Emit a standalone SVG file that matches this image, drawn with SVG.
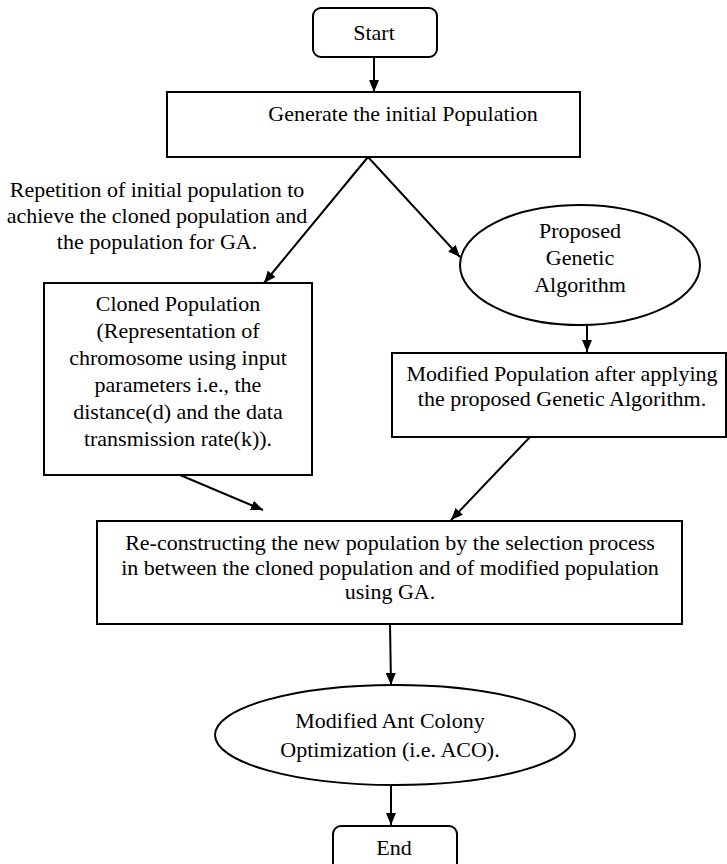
<svg xmlns="http://www.w3.org/2000/svg" width="727" height="864" viewBox="0 0 727 864">
  <style>
    .box { fill: #fff; stroke: #000; stroke-width: 2; }
    .lbl { font-family: "Liberation Serif", "Times New Roman", serif; font-size: 22px; fill: #000; text-anchor: middle; }
    .edge { stroke: #000; stroke-width: 2; fill: none; marker-end: url(#arrow); }
  </style>
  <defs>
    <marker id="arrow" viewBox="0 0 12 10" refX="12" refY="5" markerWidth="12" markerHeight="10" markerUnits="userSpaceOnUse" orient="auto">
      <path d="M0,0 L12,5 L0,10 z" fill="#000"/>
    </marker>
  </defs>
  <rect width="727" height="864" fill="#fff"/>

  <g id="connectors">
    <line class="edge" x1="374" y1="57" x2="374" y2="92"/>
    <line class="edge" x1="368" y1="157" x2="264" y2="283"/>
    <line class="edge" x1="368" y1="157" x2="460" y2="257"/>
    <line class="edge" x1="587" y1="325" x2="587" y2="352"/>
    <line class="edge" x1="180" y1="475" x2="263" y2="510"/>
    <line class="edge" x1="530" y1="437" x2="451" y2="520"/>
    <line class="edge" x1="390" y1="624" x2="391" y2="685"/>
    <line class="edge" x1="391" y1="785" x2="391" y2="825"/>
  </g>

  <g id="start">
    <rect class="box" x="313" y="8" width="124" height="49" rx="8"/>
    <text class="lbl" x="374" y="40">Start</text>
  </g>

  <g id="generate">
    <rect class="box" x="167" y="92" width="413" height="65"/>
    <text class="lbl" x="403" y="121">Generate the initial Population</text>
  </g>

  <g id="repetition-note">
    <text class="lbl" x="157" y="197">Repetition of initial population to</text>
    <text class="lbl" x="157" y="223">achieve the cloned population and</text>
    <text class="lbl" x="157" y="249">the population for GA.</text>
  </g>

  <g id="proposed-ga">
    <ellipse class="box" cx="580" cy="265" rx="120" ry="60"/>
    <text class="lbl" x="580" y="238">Proposed</text>
    <text class="lbl" x="580" y="265">Genetic</text>
    <text class="lbl" x="580" y="292">Algorithm</text>
  </g>

  <g id="cloned">
    <rect class="box" x="44" y="283" width="268" height="192"/>
    <text class="lbl" x="178" y="311">Cloned Population</text>
    <text class="lbl" x="178" y="338">(Representation of</text>
    <text class="lbl" x="178" y="365">chromosome using input</text>
    <text class="lbl" x="178" y="392">parameters i.e., the</text>
    <text class="lbl" x="178" y="419">distance(d) and the data</text>
    <text class="lbl" x="178" y="446">transmission rate(k)).</text>
  </g>

  <g id="modified">
    <rect class="box" x="392" y="353" width="334" height="84"/>
    <text class="lbl" x="562" y="381">Modified Population after applying</text>
    <text class="lbl" x="562" y="406">the proposed Genetic Algorithm.</text>
  </g>

  <g id="reconstruct">
    <rect class="box" x="97" y="521" width="585" height="103"/>
    <text class="lbl" x="390" y="550">Re-constructing the new population by the selection process</text>
    <text class="lbl" x="390" y="575">in between the cloned population and of modified population</text>
    <text class="lbl" x="390" y="599">using GA.</text>
  </g>

  <g id="aco">
    <ellipse class="box" cx="395" cy="735" rx="180" ry="50"/>
    <text class="lbl" x="390" y="728">Modified Ant Colony</text>
    <text class="lbl" x="390" y="757">Optimization (i.e. ACO).</text>
  </g>

  <g id="end">
    <rect class="box" x="333" y="826" width="124" height="46" rx="8"/>
    <text class="lbl" x="394" y="855">End</text>
  </g>
</svg>
